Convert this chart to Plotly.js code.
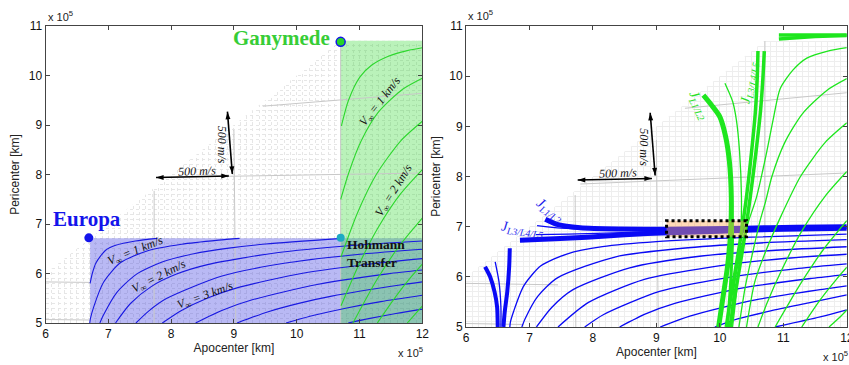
<!DOCTYPE html>
<html><head><meta charset="utf-8">
<script src="https://cdn.plot.ly/plotly-3.0.1.min.js"></script>
<style>html,body{margin:0;padding:0;background:#fff}#chart{width:849px;height:365px}</style>
</head><body><div id="chart"></div>
<script>
// ===== Left panel: V-infinity contours (apocenter / pericenter, x 1e5 km) =====
// Europa contours, 0.5 km/s steps (0.5 ... 5 km/s)
const euRa = [
  [6.71, 6.745, 6.803, 6.953, 7.117, 7.432, 7.78],
  [6.705, 6.716, 6.764, 6.924, 7.197, 7.629, 8.168, 8.757, 9.09],
  [6.866, 6.921, 7.134, 7.440, 7.857, 8.361, 8.919, 9.507, 10.734],
  [7.115, 7.353, 7.683, 8.096, 8.580, 9.681, 10.878, 12.0],
  [7.44, 7.642, 7.925, 8.811, 9.880, 11.049, 12.0],
  [7.86, 8.165, 8.583, 9.049, 10.096, 11.242, 12.0],
  [8.39, 8.827, 9.292, 10.324, 11.450, 12.0],
  [9.05, 9.535, 10.033, 10.558, 11.671, 12.0],
  [9.83, 10.276, 10.798, 11.340, 12.0],
  [10.82, 11.147, 11.580, 12.0]
];
const euRp = [
  [5.80, 6.00, 6.213, 6.465, 6.569, 6.657, 6.71],
  [5.0, 5.092, 5.312, 5.823, 6.221, 6.460, 6.591, 6.674, 6.71],
  [5.0, 5.155, 5.614, 5.978, 6.232, 6.399, 6.512, 6.595, 6.71],
  [5.0, 5.394, 5.735, 5.993, 6.180, 6.420, 6.566, 6.657],
  [5.0, 5.240, 5.493, 5.949, 6.221, 6.394, 6.49],
  [5.0, 5.253, 5.506, 5.710, 6.005, 6.202, 6.30],
  [5.0, 5.262, 5.468, 5.778, 5.993, 6.07],
  [5.0, 5.224, 5.397, 5.543, 5.772, 5.83],
  [5.0, 5.155, 5.304, 5.432, 5.56],
  [5.0, 5.089, 5.193, 5.28]
];
// Ganymede contours, 0.5 km/s steps (0.5 ... 3.5 km/s)
const gaRa = [
  [10.712, 10.828, 11.008, 11.196, 11.451, 11.761, 12.0],
  [10.701, 10.824, 11.024, 11.297, 11.687, 12.0],
  [10.704, 10.969, 11.267, 11.657, 12.0],
  [10.706, 10.979, 11.288, 11.656, 12.0],
  [10.896, 11.269, 11.636, 12.0],
  [11.283, 11.583, 11.828, 12.0],
  [11.76, 11.911, 12.0]
];
const gaRp = [
  [8.983, 9.509, 9.971, 10.212, 10.385, 10.503, 10.56],
  [7.496, 8.015, 8.671, 9.254, 9.721, 9.944],
  [6.331, 7.228, 8.000, 8.680, 9.075],
  [5.350, 6.148, 6.909, 7.612, 8.10],
  [5.0, 5.857, 6.561, 7.12],
  [5.0, 5.544, 5.940, 6.19],
  [5.0, 5.216, 5.34]
];
const euBoxRa = [6.71, 12, 12, 6.71];
const euBoxRp = [5, 5, 6.71, 6.71];
const gaBoxRa = [10.7, 12, 12, 10.7];
const gaBoxRp = [5, 5, 10.7, 10.7];
const coverRa = [6, 10.7, 12, 12, 6];
const coverRp = [6, 10.7, 10.7, 11, 11];
const europaPt = [6.69, 6.72];
const ganymedePt = [10.70, 10.68];
const hohmannPt = [10.70, 6.72];
const lGrayRa = [[7.73, 7.73], [9.00, 9.03], [10.70, 10.70], [6.0, 6.71], [6.0, 6.71], [7.8, 12.0], [9.46, 12.0]];
const lGrayRp = [[7.67, 5.0], [8.90, 5.0], [10.68, 5.0], [5.83, 5.82], [5.07, 5.06], [7.94, 8.03], [9.38, 9.64]];
// 500 m/s double arrows: [tail, head]
const lArrowHRa = [7.76, 8.92], lArrowHRp = [7.94, 7.97];
const lArrowVRa = [8.975, 8.897], lArrowVRp = [8.01, 9.27];

// ===== Right panel: Jacobi-constant bounds =====
const rBlueRa = [
  [6.69, 6.70, 6.75, 6.91, 7.18, 7.6, 8.15, 9.0, 10.5, 12.0],
  [6.88, 6.93, 7.13, 7.44, 8.36, 9.5, 10.7, 12.0],
  [7.11, 7.35, 7.68, 8.58, 9.68, 10.88, 12.0],
  [7.45, 7.93, 8.81, 9.88, 11.05, 12.0],
  [7.87, 8.17, 9.05, 10.10, 11.24, 12.0],
  [8.42, 8.83, 9.29, 10.32, 11.45, 12.0],
  [9.06, 9.54, 10.56, 11.67, 12.0],
  [9.92, 10.28, 10.8, 11.4, 12.0],
  [10.87, 11.58, 12.0]
];
const rBlueRp = [
  [5.0, 5.1, 5.31, 5.82, 6.22, 6.46, 6.6, 6.7, 6.79, 6.85],
  [5.0, 5.16, 5.61, 5.98, 6.40, 6.58, 6.68, 6.74],
  [5.0, 5.39, 5.74, 6.18, 6.41, 6.53, 6.60],
  [5.0, 5.49, 5.95, 6.20, 6.37, 6.45],
  [5.0, 5.25, 5.71, 5.98, 6.17, 6.26],
  [5.0, 5.26, 5.47, 5.77, 5.97, 6.05],
  [5.0, 5.22, 5.54, 5.76, 5.82],
  [5.0, 5.16, 5.32, 5.48, 5.64],
  [5.0, 5.2, 5.34]
];
const jL12BlueRa = [7.25, 7.45, 7.8, 8.4, 9.2, 10.4, 11.2, 12.0];
const jL12BlueRp = [7.15, 7.04, 6.98, 6.955, 6.95, 6.97, 6.99, 7.0];
const jL345BlueRa = [6.85, 7.4, 7.9, 8.5, 9.2, 10.0, 11.0, 12.0];
const jL345BlueRp = [6.73, 6.76, 6.79, 6.84, 6.88, 6.91, 6.95, 6.97];
const jThinBlueRa = [[7.12, 7.5, 8.0, 8.8], [7.1, 7.6, 8.2, 9.0]];
const jThinBlueRp = [[7.02, 6.97, 6.945, 6.935], [6.84, 6.85, 6.87, 6.9]];
const blBlueRa = [[6.30, 6.38, 6.45, 6.49, 6.50], [6.46, 6.52, 6.55, 6.55], [6.69, 6.68, 6.65, 6.61, 6.59]];
const blBlueRp = [[6.20, 6.0, 5.7, 5.4, 5.0], [6.30, 5.9, 5.4, 5.0], [6.57, 6.2, 5.7, 5.3, 5.0]];
const rGreenRa = [
  [10.15, 10.25, 10.4, 10.58, 10.74, 10.85, 10.95, 11.15, 11.37, 11.7, 12.0],
  [10.30, 10.40, 10.52, 10.63, 10.72, 10.82, 11.02, 11.30, 11.69, 12.0],
  [10.42, 10.55, 10.72, 10.97, 11.27, 11.66, 12.0],
  [10.60, 10.75, 10.98, 11.29, 11.66, 12.0],
  [10.87, 11.27, 11.64, 12.0],
  [11.29, 11.58, 11.83, 12.0],
  [11.72, 11.91, 12.0]
];
const rGreenRp = [
  [5.0, 6.0, 6.9, 7.6, 8.5, 9.2, 9.75, 10.12, 10.36, 10.5, 10.57],
  [5.0, 5.8, 6.5, 7.1, 7.5, 8.0, 8.67, 9.25, 9.72, 9.95],
  [5.0, 5.9, 6.5, 7.23, 8.0, 8.68, 9.07],
  [5.0, 5.5, 6.15, 6.91, 7.61, 8.1],
  [5.0, 5.86, 6.56, 7.12],
  [5.0, 5.54, 5.94, 6.19],
  [5.0, 5.22, 5.34]
];
const jL12GreenRa = [[9.74, 9.87, 10.0, 10.09, 10.15, 10.18, 10.17, 10.12, 10.05, 9.98], [10.18, 10.2, 10.17, 10.12]];
const jL12GreenRp = [[9.62, 9.42, 9.19, 8.8, 8.3, 7.6, 6.9, 6.2, 5.6, 5.0], [7.6, 6.8, 5.9, 5.0]];
const jL345GreenRa = [[10.60, 10.59, 10.56, 10.50, 10.42, 10.33, 10.24, 10.16, 10.10], [10.70, 10.68, 10.64, 10.57, 10.48, 10.39, 10.30, 10.22, 10.17]];
const jL345GreenRp = [[10.5, 10.0, 9.3, 8.5, 7.6, 6.8, 6.1, 5.5, 5.0], [10.5, 10.0, 9.3, 8.5, 7.6, 6.8, 6.1, 5.5, 5.0]];
const jThinGreenRa = [10.08, 10.2, 10.26, 10.31, 10.34, 10.33, 10.28, 10.2];
const jThinGreenRp = [9.86, 9.5, 9.13, 8.5, 7.6, 6.8, 5.9, 5.0];
const topGreenRa = [[10.93, 11.4, 12.0], [10.93, 11.5, 12.0]];
const topGreenRp = [[10.82, 10.82, 10.82], [10.74, 10.79, 10.81]];
const targetBoxRa = [9.16, 10.42];
const targetBoxRp = [6.80, 7.12];
const rGrayRa = [[7.72, 7.73], [9.0, 9.03], [10.71, 10.71], [6.0, 7.45], [6.0, 6.9], [7.8, 12.0], [9.45, 12.0]];
const rGrayRp = [[7.63, 5.0], [8.73, 5.0], [10.70, 5.0], [5.87, 5.84], [5.07, 5.05], [7.85, 8.07], [9.36, 9.67]];
const rArrowHRa = [7.76, 8.93], rArrowHRp = [7.93, 7.96];
const rArrowVRa = [8.98, 8.902], rArrowVRp = [8.02, 9.27];

// ===== build traces =====
const traces = [];
function line(x, y, xa, ya, color, width, shape) {
  traces.push({type: 'scatter', mode: 'lines', x: x, y: y, xaxis: xa, yaxis: ya,
    line: {color: color, width: width, shape: shape || 'spline', smoothing: 0.7},
    hoverinfo: 'skip', showlegend: false});
}
function fillPoly(x, y, xa, ya, color) {
  traces.push({type: 'scatter', mode: 'lines', x: x, y: y, xaxis: xa, yaxis: ya, fill: 'toself',
    fillcolor: color, line: {width: 0, color: color}, hoverinfo: 'skip', showlegend: false});
}
function dblArrow(x, y, xa, ya, angles) {
  traces.push({type: 'scatter', mode: 'lines+markers', x: x, y: y, xaxis: xa, yaxis: ya,
    line: {color: '#000', width: 1.6},
    marker: {symbol: 'arrow', size: 8, angle: angles, color: '#000', line: {width: 0}},
    hoverinfo: 'skip', showlegend: false});
}
// Left panel
fillPoly(coverRa, coverRp, 'x', 'y', '#ffffff');
fillPoly(euBoxRa, euBoxRp, 'x', 'y', 'rgba(60,60,225,0.36)');
fillPoly(gaBoxRa, gaBoxRp, 'x', 'y', 'rgba(45,215,45,0.33)');
lGrayRa.forEach((r, i) => line(r, lGrayRp[i], 'x', 'y', 'rgb(200,200,200)', 1, 'linear'));
euRa.forEach((r, i) => line(r, euRp[i], 'x', 'y', 'rgb(25,25,225)', 1.1));
gaRa.forEach((r, i) => line(r, gaRp[i], 'x', 'y', 'rgb(45,215,45)', 1.1));
dblArrow(lArrowHRa, lArrowHRp, 'x', 'y', [-90, 90]);
dblArrow(lArrowVRa, lArrowVRp, 'x', 'y', [176, -4]);
traces.push({type: 'scatter', mode: 'markers', x: [europaPt[0]], y: [europaPt[1]], xaxis: 'x', yaxis: 'y',
  marker: {size: 9, color: 'rgb(20,20,235)'}, hoverinfo: 'skip', showlegend: false});
traces.push({type: 'scatter', mode: 'markers', x: [ganymedePt[0]], y: [ganymedePt[1]], xaxis: 'x', yaxis: 'y',
  marker: {size: 9, color: 'rgb(40,210,40)', line: {color: 'rgb(20,20,235)', width: 1.5}}, hoverinfo: 'skip', showlegend: false});
traces.push({type: 'scatter', mode: 'markers', x: [hohmannPt[0]], y: [hohmannPt[1]], xaxis: 'x', yaxis: 'y',
  marker: {size: 8, color: 'rgb(30,170,195)'}, hoverinfo: 'skip', showlegend: false});
// Right panel
fillPoly(coverRa, coverRp, 'x2', 'y2', '#ffffff');
rGrayRa.forEach((r, i) => line(r, rGrayRp[i], 'x2', 'y2', 'rgb(200,200,200)', 1, 'linear'));
rBlueRa.forEach((r, i) => line(r, rBlueRp[i], 'x2', 'y2', 'rgb(10,10,245)', 1.3));
jThinBlueRa.forEach((r, i) => line(r, jThinBlueRp[i], 'x2', 'y2', 'rgb(10,10,245)', 1.2));
line(blBlueRa[0], blBlueRp[0], 'x2', 'y2', 'rgb(10,10,245)', 4);
line(blBlueRa[1], blBlueRp[1], 'x2', 'y2', 'rgb(10,10,245)', 1.3);
line(blBlueRa[2], blBlueRp[2], 'x2', 'y2', 'rgb(10,10,245)', 4);
line(jL12BlueRa, jL12BlueRp, 'x2', 'y2', 'rgb(10,10,245)', 5);
line(jL345BlueRa, jL345BlueRp, 'x2', 'y2', 'rgb(10,10,245)', 5);
rGreenRa.forEach((r, i) => line(r, rGreenRp[i], 'x2', 'y2', 'rgb(30,230,30)', 1.3));
line(jThinGreenRa, jThinGreenRp, 'x2', 'y2', 'rgb(30,230,30)', 1.3);
line(jL12GreenRa[0], jL12GreenRp[0], 'x2', 'y2', 'rgb(30,230,30)', 5);
line(jL12GreenRa[1], jL12GreenRp[1], 'x2', 'y2', 'rgb(30,230,30)', 3);
line(jL345GreenRa[0], jL345GreenRp[0], 'x2', 'y2', 'rgb(30,230,30)', 3.5);
line(jL345GreenRa[1], jL345GreenRp[1], 'x2', 'y2', 'rgb(30,230,30)', 3.5);
topGreenRa.forEach((r, i) => line(r, topGreenRp[i], 'x2', 'y2', 'rgb(30,230,30)', 3.5, 'linear'));
dblArrow(rArrowHRa, rArrowHRp, 'x2', 'y2', [-90, 90]);
dblArrow(rArrowVRa, rArrowVRp, 'x2', 'y2', [176, -4]);

// ===== layout =====
const tickFont = {family: 'Liberation Sans, Arial, sans-serif', size: 12, color: '#111'};
function axis(domain, anchor, range, tick0, title, gridStyle, standoff) {
  return Object.assign({
    domain: domain, anchor: anchor, range: range, tick0: tick0, dtick: 1,
    ticks: 'inside', ticklen: 4, tickwidth: 1, tickcolor: '#444',
    showline: true, linecolor: '#444', linewidth: 1, mirror: 'ticks', zeroline: false,
    tickfont: tickFont, fixedrange: true, ticklabeloverflow: 'allow',
    title: {text: title, font: {family: 'Liberation Sans, Arial, sans-serif', size: 12, color: '#222'}, standoff: standoff}
  }, gridStyle);
}
const leftGrid = {showgrid: true, gridcolor: '#e6e6e6', griddash: 'dot', gridwidth: 1,
  minor: {dtick: 0.1, showgrid: true, gridcolor: '#e6e6e6', griddash: 'dot', gridwidth: 1}};
const rightGrid = {showgrid: true, gridcolor: '#ebebeb', griddash: 'solid', gridwidth: 1,
  minor: {dtick: 0.1, showgrid: true, gridcolor: '#eeeeee', griddash: 'solid', gridwidth: 1}};

const serif = 'Liberation Serif, Times New Roman, serif';
function lbl(xr, yr, x, y, text, angle, size, color, extra) {
  return Object.assign({xref: xr, yref: yr, x: x, y: y, text: text, showarrow: false, textangle: angle || 0,
    font: {family: serif, size: size, color: color}}, extra || {});
}
const sup = 'x 10<sup>5</sup>';
const expFont = {family: 'Liberation Sans, Arial, sans-serif', size: 11, color: '#222'};
const annotations = [
  lbl('x', 'y', 6.66, 7.10, '<b>Europa</b>', 0, 21, 'rgb(20,20,235)'),
  lbl('x', 'y', 9.76, 10.75, '<b>Ganymede</b>', 0, 21, 'rgb(55,205,55)'),
  lbl('x', 'y', 10.77, 6.40, '<b>Hohmann<br>Transfer</b>', 0, 13.5, '#111', {xanchor: 'left', align: 'left'}),
  lbl('x', 'y', 7.44, 6.46, '<i>V<sub>∞</sub> = 1 km/s</i>', -22, 12, '#111'),
  lbl('x', 'y', 7.81, 5.92, '<i>V<sub>∞</sub> = 2 km/s</i>', -27, 12, '#111'),
  lbl('x', 'y', 8.54, 5.55, '<i>V<sub>∞</sub> = 3 km/s</i>', -20, 12, '#111'),
  lbl('x', 'y', 11.33, 9.47, '<i>V<sub>∞</sub> = 1 km/s</i>', -52, 12, '#111'),
  lbl('x', 'y', 11.55, 7.67, '<i>V<sub>∞</sub> = 2 km/s</i>', -58, 12, '#111'),
  lbl('x', 'y', 8.41, 8.07, '<i>500 m/s</i>', -2, 12, '#111'),
  lbl('x', 'y', 8.81, 8.60, '<i>500 m/s</i>', 90, 12, '#111'),
  lbl('x2', 'y2', 8.40, 8.07, '<i>500 m/s</i>', -2, 12, '#111'),
  lbl('x2', 'y2', 8.80, 8.59, '<i>500 m/s</i>', 90, 12, '#111'),
  lbl('x2', 'y2', 7.32, 7.33, '<i>J<sub>L1/L2</sub></i>', 35, 14, 'rgb(30,30,235)'),
  lbl('x2', 'y2', 6.89, 6.95, '<i>J<sub>L3/L4/L5</sub></i>', 7, 14, 'rgb(30,30,235)'),
  lbl('x2', 'y2', 9.66, 9.41, '<i>J<sub>L1/L2</sub></i>', 65, 14, 'rgb(40,225,40)'),
  lbl('x2', 'y2', 10.46, 9.86, '<i>J<sub>L3/L4/L5</sub></i>', -80, 14, 'rgb(40,225,40)'),
  {xref: 'paper', yref: 'paper', x: 45.5 / 849, y: (365 - 16) / 365, xanchor: 'left', yanchor: 'middle', text: sup, showarrow: false, font: expFont},
  {xref: 'paper', yref: 'paper', x: 396 / 849, y: (365 - 352) / 365, xanchor: 'left', yanchor: 'middle', text: sup, showarrow: false, font: expFont},
  {xref: 'paper', yref: 'paper', x: 466 / 849, y: (365 - 15) / 365, xanchor: 'left', yanchor: 'middle', text: sup, showarrow: false, font: expFont},
  {xref: 'paper', yref: 'paper', x: 821 / 849, y: (365 - 356) / 365, xanchor: 'left', yanchor: 'middle', text: sup, showarrow: false, font: expFont}
];
const shapes = [
  {type: 'rect', xref: 'x2', yref: 'y2', x0: targetBoxRa[0], x1: targetBoxRa[1], y0: targetBoxRp[0], y1: targetBoxRp[1],
    fillcolor: 'rgba(255,170,85,0.42)', line: {color: '#000', width: 3, dash: 'dot'}, layer: 'above'}
];
const layout = {
  width: 849, height: 365, margin: {l: 0, r: 0, t: 0, b: 0},
  paper_bgcolor: '#fff', plot_bgcolor: '#fff', showlegend: false,
  xaxis: axis([45.5 / 849, 422.3 / 849], 'y', [6, 12], 6, 'Apocenter [km]', leftGrid, 3),
  yaxis: axis([42 / 365, 339 / 365], 'x', [5, 11], 5, 'Pericenter [km]', leftGrid, 6),
  xaxis2: axis([466 / 849, 846.8 / 849], 'y2', [6, 12], 6, 'Apocenter [km]', rightGrid, 3),
  yaxis2: axis([38 / 365, 339 / 365], 'x2', [5, 11], 5, 'Pericenter [km]', rightGrid, 6),
  annotations: annotations, shapes: shapes
};
Plotly.newPlot('chart', traces, layout, {staticPlot: true, displayModeBar: false});
</script></body></html>
